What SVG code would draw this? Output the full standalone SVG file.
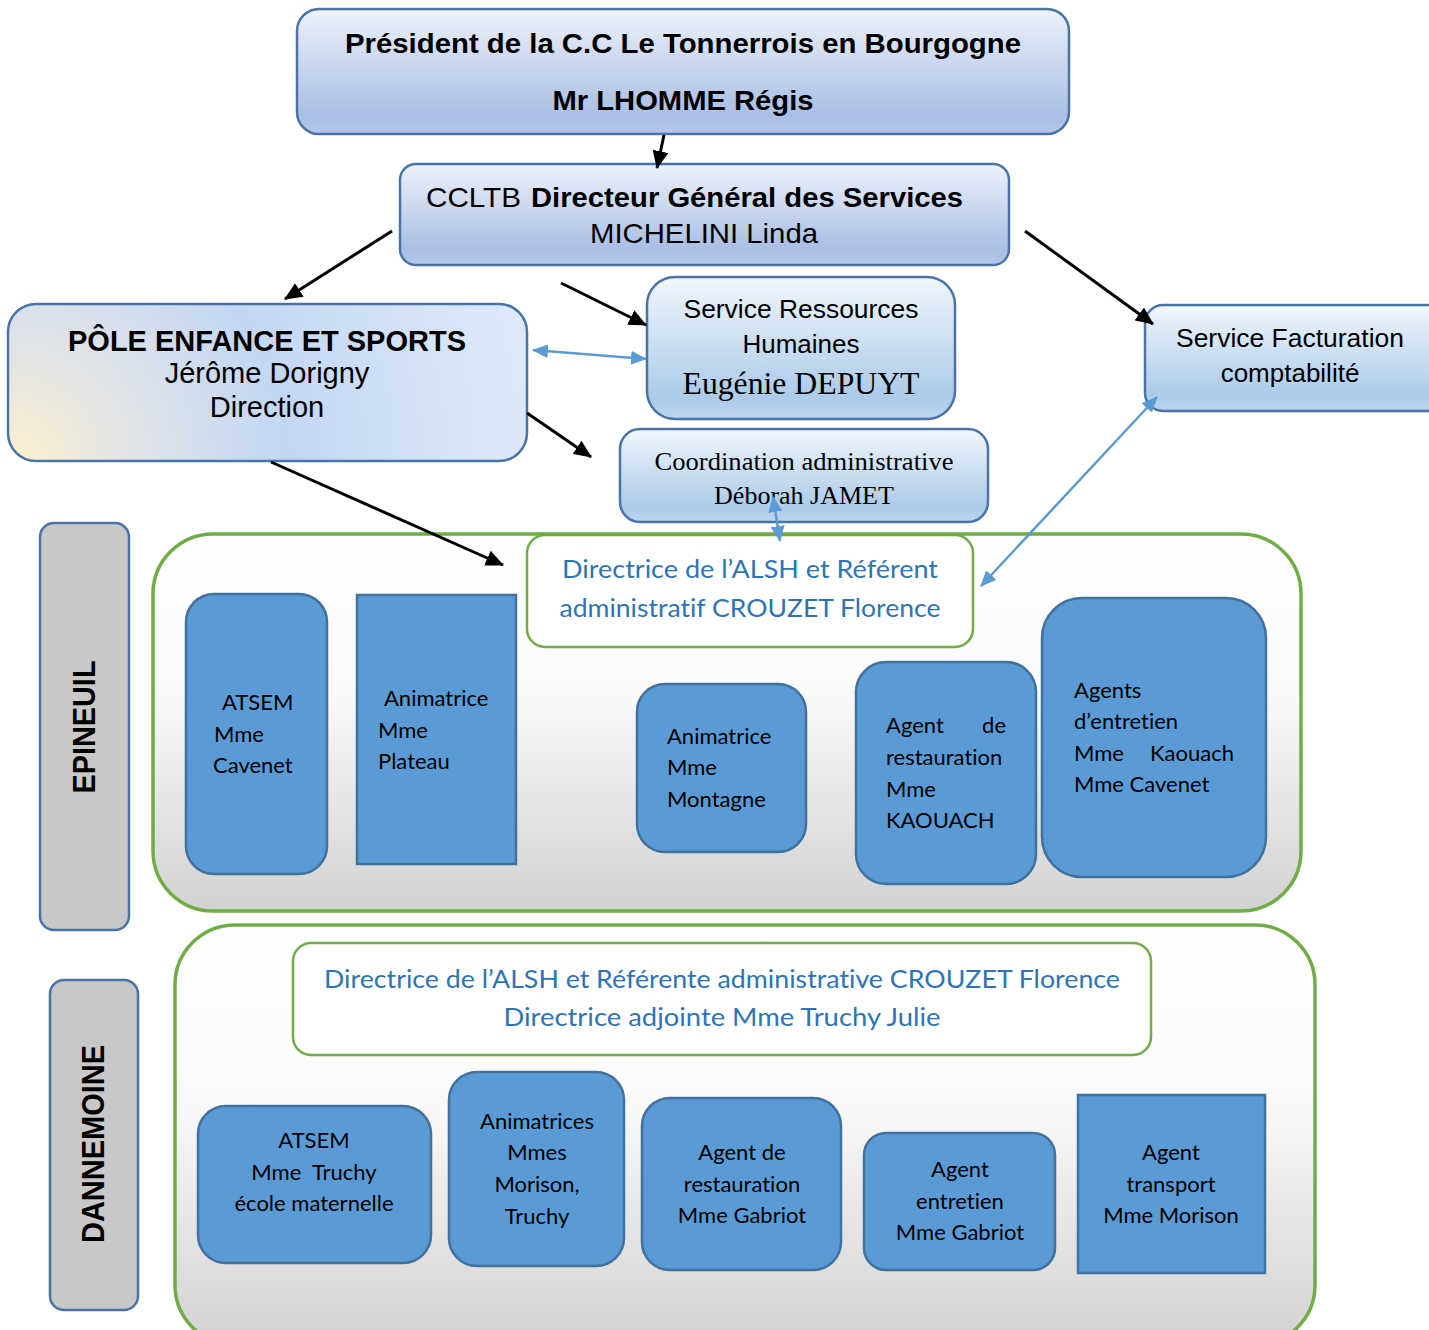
<svg xmlns="http://www.w3.org/2000/svg" width="1429" height="1330" viewBox="0 0 1429 1330">
  <defs>
    <linearGradient id="gHead" x1="0" y1="0" x2="0" y2="1">
      <stop offset="0" stop-color="#eef2fa"/>
      <stop offset="0.85" stop-color="#a9bee4"/>
      <stop offset="1" stop-color="#b6c8ea"/>
    </linearGradient>
    <linearGradient id="gSvc" x1="0" y1="0" x2="0" y2="1">
      <stop offset="0" stop-color="#f1f6fc"/>
      <stop offset="0.85" stop-color="#abcbe9"/>
      <stop offset="1" stop-color="#bdd6ee"/>
    </linearGradient>
    <radialGradient id="gPole" gradientUnits="userSpaceOnUse" cx="15" cy="462" r="560">
      <stop offset="0" stop-color="#fdf1cf"/>
      <stop offset="0.2" stop-color="#e2e4e6"/>
      <stop offset="0.48" stop-color="#c3d7f4"/>
      <stop offset="1" stop-color="#e3ecfa"/>
    </radialGradient>
    <linearGradient id="gSite" x1="0" y1="0" x2="0" y2="1">
      <stop offset="0" stop-color="#ffffff"/>
      <stop offset="0.4" stop-color="#fbfbfb"/>
      <stop offset="1" stop-color="#d2d2d2"/>
    </linearGradient>
    <marker id="ahBlack" markerUnits="userSpaceOnUse" markerWidth="18" markerHeight="16" viewBox="0 0 18 16" refX="17" refY="8" orient="auto-start-reverse">
      <path d="M0,0 L18,8 L0,16 z" fill="#000"/>
    </marker>
    <marker id="ahBlue" markerUnits="userSpaceOnUse" markerWidth="16" markerHeight="14" viewBox="0 0 16 14" refX="15" refY="7" orient="auto-start-reverse">
      <path d="M0,0 L16,7 L0,14 z" fill="#5b9bd5"/>
    </marker>
    <style>
      text { font-variant-ligatures: none; font-feature-settings: "liga" 0, "clig" 0, "dlig" 0; }
      .head { fill: url(#gHead); stroke: #4a74a8; stroke-width: 2.5; }
      .svc { fill: url(#gSvc); stroke: #4a74a8; stroke-width: 2.5; }
      .site { fill: url(#gSite); stroke: #70ad47; stroke-width: 3.5; }
      .dir { fill: #ffffff; stroke: #70ad47; stroke-width: 2.5; }
      .tab { fill: #c8c8c8; stroke: #4a74a8; stroke-width: 2.5; }
      .staff { fill: #5b9bd5; stroke: #41719c; stroke-width: 2.5; }
      .arial { font-family: "Liberation Sans", Arial, sans-serif; fill: #000; }
      .times { font-family: "Liberation Serif", "Times New Roman", serif; fill: #000; }
      .cal { font-family: Lato, "Open Sans", sans-serif; fill: #000; font-size: 22px; }
      .blue { font-family: Lato, "Open Sans", sans-serif; fill: #2e74b5; font-size: 25px; }
      .b { font-weight: bold; }
      .mid { text-anchor: middle; }
      .black { stroke: #000; stroke-width: 3; fill: none; marker-end: url(#ahBlack); }
      .bl { stroke: #5b9bd5; stroke-width: 2.5; fill: none; marker-start: url(#ahBlue); marker-end: url(#ahBlue); }
    </style>
  </defs>

  <!-- site containers -->
  <g id="site-epineuil">
    <rect class="site" x="153" y="534" width="1148" height="377" rx="60"/>
  </g>
  <g id="site-dannemoine">
    <rect class="site" x="175" y="925" width="1140" height="420" rx="60"/>
  </g>

  <!-- president -->
  <g id="president">
    <rect class="head" x="297" y="9" width="772" height="125" rx="22"/>
    <text class="arial b mid" x="683" y="53" font-size="28" textLength="676" lengthAdjust="spacingAndGlyphs">Président de la C.C Le Tonnerrois en Bourgogne</text>
    <text class="arial b mid" x="683" y="110" font-size="28" textLength="261" lengthAdjust="spacingAndGlyphs">Mr LHOMME Régis</text>
  </g>

  <!-- general director -->
  <g id="dgs">
    <rect class="head" x="400" y="164" width="609" height="101" rx="16"/>
    <text class="arial" x="426" y="207" font-size="28" textLength="95" lengthAdjust="spacingAndGlyphs">CCLTB</text>
    <text class="arial b" x="531" y="207" font-size="28" textLength="432" lengthAdjust="spacingAndGlyphs">Directeur Général des Services</text>
    <text class="arial mid" x="704" y="243" font-size="28" textLength="228" lengthAdjust="spacingAndGlyphs">MICHELINI Linda</text>
  </g>

  <!-- pole -->
  <g id="pole">
    <rect x="8" y="304" width="519" height="157" rx="28" fill="url(#gPole)" stroke="#4a74a8" stroke-width="2.5"/>
    <text class="arial b mid" x="267" y="351" font-size="29">PÔLE ENFANCE ET SPORTS</text>
    <text class="arial mid" x="267" y="383" font-size="29">Jérôme Dorigny</text>
    <text class="arial mid" x="267" y="417" font-size="29">Direction</text>
  </g>

  <!-- HR -->
  <g id="rh">
    <rect class="svc" x="647" y="277" width="308" height="142" rx="28"/>
    <text class="arial mid" x="801" y="318" font-size="26" textLength="235" lengthAdjust="spacingAndGlyphs">Service Ressources</text>
    <text class="arial mid" x="801" y="353" font-size="26">Humaines</text>
    <text class="times mid" x="801" y="394" font-size="32" textLength="237" lengthAdjust="spacingAndGlyphs">Eugénie DEPUYT</text>
  </g>

  <!-- billing -->
  <g id="facturation">
    <rect class="svc" x="1145" y="305" width="300" height="106" rx="18"/>
    <text class="arial mid" x="1290" y="347" font-size="26" textLength="228" lengthAdjust="spacingAndGlyphs">Service Facturation</text>
    <text class="arial mid" x="1290" y="382" font-size="26">comptabilité</text>
  </g>

  <!-- coordination -->
  <g id="coordination">
    <rect class="svc" x="620" y="429" width="368" height="93" rx="20"/>
    <text class="times mid" x="804" y="470" font-size="26" textLength="299" lengthAdjust="spacingAndGlyphs">Coordination administrative</text>
    <text class="times mid" x="804" y="504" font-size="26">Déborah JAMET</text>
  </g>

  <!-- side tabs -->
  <g id="tab-epineuil">
    <rect class="tab" x="40" y="523" width="89" height="407" rx="14"/>
    <text class="arial b mid" transform="translate(95,727) rotate(-90)" font-size="32" textLength="133" lengthAdjust="spacingAndGlyphs">EPINEUIL</text>
  </g>
  <g id="tab-dannemoine">
    <rect class="tab" x="50" y="980" width="88" height="330" rx="14"/>
    <text class="arial b mid" transform="translate(104,1144) rotate(-90)" font-size="32" textLength="198" lengthAdjust="spacingAndGlyphs">DANNEMOINE</text>
  </g>

  <!-- Epineuil staff -->
  <g id="dir-epineuil">
    <rect class="dir" x="527" y="535" width="446" height="112" rx="18"/>
    <text class="blue mid" x="750" y="578" textLength="376" lengthAdjust="spacingAndGlyphs">Directrice de l’ALSH et Référent</text>
    <text class="blue mid" x="750" y="617" textLength="381" lengthAdjust="spacingAndGlyphs">administratif CROUZET Florence</text>
  </g>
  <g id="ep-atsem">
    <rect class="staff" x="186" y="594" width="141" height="280" rx="28"/>
    <text class="cal" x="222" y="710">ATSEM</text>
    <text class="cal" x="214" y="742">Mme</text>
    <text class="cal" x="213" y="773">Cavenet</text>
  </g>
  <g id="ep-animatrice-plateau">
    <rect class="staff" x="357" y="595" width="159" height="269"/>
    <text class="cal" x="384" y="706">Animatrice</text>
    <text class="cal" x="378" y="738">Mme</text>
    <text class="cal" x="378" y="769">Plateau</text>
  </g>
  <g id="ep-animatrice-montagne">
    <rect class="staff" x="637" y="684" width="169" height="168" rx="28"/>
    <text class="cal" x="667" y="744">Animatrice</text>
    <text class="cal" x="667" y="775">Mme</text>
    <text class="cal" x="667" y="807">Montagne</text>
  </g>
  <g id="ep-restauration">
    <rect class="staff" x="856" y="662" width="180" height="222" rx="30"/>
    <text class="cal" x="886" y="733">Agent</text>
    <text class="cal" x="1006" y="733" text-anchor="end">de</text>
    <text class="cal" x="886" y="765">restauration</text>
    <text class="cal" x="886" y="797">Mme</text>
    <text class="cal" x="886" y="828">KAOUACH</text>
  </g>
  <g id="ep-entretien">
    <rect class="staff" x="1042" y="598" width="224" height="279" rx="40"/>
    <text class="cal" x="1074" y="698">Agents</text>
    <text class="cal" x="1074" y="729">d’entretien</text>
    <text class="cal" x="1074" y="761">Mme</text>
    <text class="cal" x="1234" y="761" text-anchor="end">Kaouach</text>
    <text class="cal" x="1074" y="792">Mme Cavenet</text>
  </g>

  <!-- Dannemoine staff -->
  <g id="dir-dannemoine">
    <rect class="dir" x="293" y="943" width="858" height="112" rx="18"/>
    <text class="blue mid" x="722" y="988" textLength="796" lengthAdjust="spacingAndGlyphs">Directrice de l’ALSH et Référente administrative CROUZET Florence</text>
    <text class="blue mid" x="722" y="1026" textLength="437" lengthAdjust="spacingAndGlyphs">Directrice adjointe Mme Truchy Julie</text>
  </g>
  <g id="da-atsem">
    <rect class="staff" x="198" y="1106" width="233" height="157" rx="28"/>
    <text class="cal mid" x="314" y="1148">ATSEM</text>
    <text class="cal mid" x="314" y="1180" xml:space="preserve">Mme  Truchy</text>
    <text class="cal mid" x="314" y="1211">école maternelle</text>
  </g>
  <g id="da-animatrices">
    <rect class="staff" x="449" y="1072" width="175" height="194" rx="28"/>
    <text class="cal mid" x="537" y="1129">Animatrices</text>
    <text class="cal mid" x="537" y="1160">Mmes</text>
    <text class="cal mid" x="537" y="1192">Morison,</text>
    <text class="cal mid" x="537" y="1224">Truchy</text>
  </g>
  <g id="da-restauration">
    <rect class="staff" x="642" y="1098" width="199" height="172" rx="28"/>
    <text class="cal mid" x="742" y="1160">Agent de</text>
    <text class="cal mid" x="742" y="1192">restauration</text>
    <text class="cal mid" x="742" y="1223">Mme Gabriot</text>
  </g>
  <g id="da-entretien">
    <rect class="staff" x="864" y="1133" width="191" height="137" rx="22"/>
    <text class="cal mid" x="960" y="1177">Agent</text>
    <text class="cal mid" x="960" y="1209">entretien</text>
    <text class="cal mid" x="960" y="1240">Mme Gabriot</text>
  </g>
  <g id="da-transport">
    <rect class="staff" x="1078" y="1095" width="187" height="178"/>
    <text class="cal mid" x="1171" y="1160">Agent</text>
    <text class="cal mid" x="1171" y="1192">transport</text>
    <text class="cal mid" x="1171" y="1223">Mme Morison</text>
  </g>

  <!-- connectors -->
  <g id="connectors">
    <line class="black" x1="664" y1="135" x2="657" y2="168"/>
    <line class="black" x1="392" y1="231" x2="285" y2="299"/>
    <line class="black" x1="561" y1="283" x2="646" y2="325"/>
    <line class="black" x1="1025" y1="231" x2="1153" y2="324"/>
    <line class="black" x1="527" y1="413" x2="591" y2="457"/>
    <line class="black" x1="271" y1="462" x2="503" y2="565"/>
    <line class="bl" x1="533" y1="350" x2="646" y2="359"/>
    <line class="bl" x1="773" y1="497" x2="780" y2="541"/>
    <line class="bl" x1="981" y1="586" x2="1157" y2="397"/>
  </g>
</svg>
